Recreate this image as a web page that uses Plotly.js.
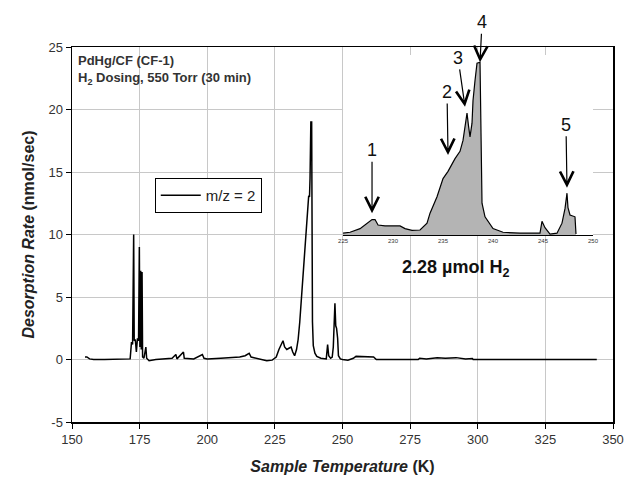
<!DOCTYPE html>
<html>
<head>
<meta charset="utf-8">
<script src="https://cdn.plot.ly/plotly-3.0.1.min.js"></script>
<style>html,body{margin:0;padding:0;background:#fff;}#chart{width:627px;height:487px;}</style>
</head>
<body>
<div id="chart"></div>
<script>
// Main trace: sample temperature (K) and desorption rate (nmol/sec)
var temperature = [154.8,155.5,156.5,158,162,166,170,171.5,172.0,172.4,172.8,173.0,173.4,173.8,174.2,174.6,174.9,175.1,175.4,175.6,175.9,176.1,176.6,177.3,177.6,178.5,181,184,187,188.4,188.8,191.2,191.5,195,198.2,198.8,200,205,208,212,214,215.5,216.2,218,220,222,224,225.5,226.5,227.4,228.0,228.6,229.4,230.2,231.0,231.6,232.3,233.0,233.6,234.2,234.8,235.4,236.0,236.7,237.2,237.5,237.8,238.0,238.3,238.6,238.9,239.2,239.8,240.5,242,244,244.5,244.9,245.6,246.2,246.6,246.9,247.2,247.5,247.8,248.2,248.5,249.2,250,252,254,255,258,261.5,262.5,270,278,278.5,281,285,288,292,295.5,298,298.3,305,310,310.5,320,330,344];
var rate = [0.2,0.2,0.05,0,0,0,0,0.05,1.4,1.2,10.0,1.5,1.6,0.6,1.7,1.5,9.0,1.0,7.1,0.8,7.0,0.2,0.1,1.0,0.1,-0.1,0,0.05,0.1,0.4,0.05,0.6,0.1,0.05,0.4,0.1,0.05,0.1,0.15,0.2,0.3,0.5,0.2,0.1,-0.05,-0.1,-0.05,0.2,0.8,1.2,1.5,1.0,0.8,0.9,1.0,0.6,0.3,0.8,1.6,3.0,4.8,6.4,8.2,10.1,12.0,13.1,13.0,14.5,19.0,19.0,3.0,1.1,0.5,0.25,0.1,0.05,1.2,0.3,0.1,0.2,1.0,2.2,4.5,2.7,2.5,1.7,0.3,0.05,0,-0.05,0.1,0.25,0.25,0.2,0,0,0,0.1,0.05,0.15,0.1,0.15,0.05,0.08,0,0,0.05,0,0,0,0];

// Inset trace (225-250 K)
var insetTemp = [225,225.7,226.7,227.4,227.9,228.2,228.5,229.2,230.7,231.2,231.9,232.7,233.4,233.7,234.4,235.0,235.5,236.2,236.7,237.0,237.2,237.4,237.55,237.7,237.9,238.0,238.2,238.4,238.7,238.8,238.9,239.2,240.0,241.0,242.7,244.7,244.9,245.2,245.7,246.4,246.9,247.2,247.4,247.5,247.7,248.2,248.3];
var insetRate = [0.2,0.3,0.7,1.3,1.7,1.7,1.1,1.0,1.0,0.7,0.5,0.55,1.3,2.4,4.2,6.2,7.0,8.4,9.2,10.4,11.9,13.4,12.0,10.8,12.3,14.8,17.0,18.9,19.0,12.0,3.5,2.0,0.7,0.3,0.2,0.2,1.5,0.8,0.1,0.2,1.3,2.9,4.6,3.0,2.2,2.0,0.1];

var xTicks = [150,175,200,225,250,275,300,325,350];
var yTicks = [-5,0,5,10,15,20,25];
var yTickText = ['-5','0','5','10','15','20','25'];
var insetTicks = [225,230,235,240,245,250];

var peakLabels = ['1','2','3','4','5'];
var peakTemp = [227.9,235.5,237.2,238.7,247.4];
var peakRate = [2.4,8.8,14.1,19.0,5.2];
var peakAx = [0,-1,-7,2,-1];
var peakAy = [-63,-63,-49,-40,-63];

var FONT = '"Liberation Sans", Arial, sans-serif';

var traces = [
  {x: temperature, y: rate, type: 'scatter', mode: 'lines', name: 'm/z = 2',
   line: {color: '#000', width: 1.5}, xaxis: 'x', yaxis: 'y'},
  {x: insetTemp, y: insetRate, type: 'scatter', mode: 'lines', fill: 'tozeroy',
   fillcolor: '#b4b4b4', line: {color: '#000', width: 1.2}, showlegend: false,
   xaxis: 'x2', yaxis: 'y2'}
];

var annotations = peakLabels.map(function(t, i) {
  return {x: peakTemp[i], y: peakRate[i], xref: 'x2', yref: 'y2', text: t,
    showarrow: true, arrowhead: 5, arrowsize: 2.2, arrowwidth: 1.2, arrowcolor: '#000',
    ax: peakAx[i], ay: peakAy[i], font: {family: FONT, size: 18, color: '#111'}};
});
annotations.push({xref: 'paper', yref: 'paper', x: 0.008, y: 0.99, xanchor: 'left', yanchor: 'top',
  align: 'left', showarrow: false,
  text: '<b>PdHg/CF (CF-1)<br>H<sub>2</sub> Dosing, 550 Torr (30 min)</b>',
  font: {family: FONT, size: 13, color: '#333'}});
annotations.push({xref: 'paper', yref: 'paper', x: 0.708, y: 0.41, xanchor: 'center', yanchor: 'middle',
  showarrow: false, text: '<b>2.28 µmol H<sub>2</sub></b>',
  font: {family: FONT, size: 18, color: '#111'}});

var layout = {
  width: 627, height: 487,
  margin: {l: 72, r: 14, t: 47, b: 65},
  paper_bgcolor: '#fff', plot_bgcolor: '#fff',
  font: {family: FONT, color: '#333'},
  showlegend: true,
  legend: {x: 0.153, y: 0.651, xanchor: 'left', yanchor: 'top', bordercolor: '#000', borderwidth: 1,
    bgcolor: '#fff', itemwidth: 40, font: {family: FONT, size: 15, color: '#222'}},
  xaxis: {domain: [0, 1], range: [150, 350], tickvals: xTicks, ticks: 'outside', ticklen: 5,
    tickcolor: '#000', showline: true, linecolor: '#000', linewidth: 1.5, mirror: true,
    showgrid: true, gridcolor: '#c8c8c8', gridwidth: 1, zeroline: false,
    tickfont: {family: FONT, size: 13, color: '#333'},
    title: {text: '<i><b>Sample Temperature</b></i><b> (K)</b>', font: {family: FONT, size: 16, color: '#222'}, standoff: 14}},
  yaxis: {domain: [0, 1], range: [-5, 25], tickvals: yTicks, ticktext: yTickText, ticks: 'outside', ticklen: 5,
    tickcolor: '#000', showline: true, linecolor: '#000', linewidth: 1.5, mirror: true,
    showgrid: true, gridcolor: '#c8c8c8', gridwidth: 1, zeroline: false,
    tickfont: {family: FONT, size: 13, color: '#333'},
    title: {text: '<i><b>Desorption Rate</b></i><b> (nmol/sec)</b>', font: {family: FONT, size: 16, color: '#222'}, standoff: 10}},
  xaxis2: {domain: [0.501, 0.963], range: [225, 250], anchor: 'y2', tickvals: insetTicks,
    showline: true, linecolor: '#000', linewidth: 1.2, showgrid: false, zeroline: false,
    ticks: '', tickfont: {family: FONT, size: 6, color: '#333'}},
  yaxis2: {domain: [0.4987, 0.9787], range: [0, 19.8], anchor: 'x2', visible: false,
    showgrid: false, zeroline: false},
  annotations: annotations
};

Plotly.newPlot('chart', traces, layout, {displayModeBar: false, staticPlot: true});
</script>
</body>
</html>
